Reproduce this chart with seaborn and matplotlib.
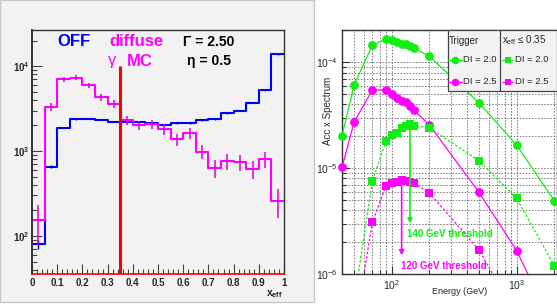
import numpy as np
import pandas as pd
import matplotlib
matplotlib.use("Agg")
import matplotlib.pyplot as plt
from matplotlib.patches import Rectangle
from matplotlib.lines import Line2D
from matplotlib.ticker import MultipleLocator, LogLocator, NullFormatter
import seaborn as sns

# ---- left panel: x_eff distributions (20 bins of 0.05)
bin_edges = [round(0.05 * i, 2) for i in range(21)]
off_counts = [80, 653, 1890, 2370, 2410, 2340, 2220, 2220, 2180, 2120,
              2020, 2135, 2135, 2320, 2380, 2770, 2980, 3700, 5230, 13800]
off_errors = [9, 26, 43, 49, 49, 48, 47, 47, 47, 46,
              45, 46, 46, 48, 49, 53, 55, 61, 72, 117]
mc_counts = [154, 3320, 7030, 7300, 5930, 4320, 3600, 2320, 2020, 2080,
             1815, 1375, 1615, 982, 637, 766, 750, 614, 798, 258]
mc_errors = [75, 340, 500, 505, 455, 390, 355, 285, 265, 270,
             250, 220, 240, 185, 150, 165, 160, 145, 165, 95]
xeff_cut = 0.35

# ---- right panel: acceptance x spectrum vs energy (GeV)
energy = [40, 50, 70, 90, 100, 110, 120, 130, 140, 150, 200, 500, 1000, 2000]
trig_di20 = [2.03e-5, 6.1e-5, 1.46e-4, 1.65e-4, 1.62e-4, 1.55e-4, 1.49e-4,
             1.50e-4, 1.44e-4, 1.36e-4, 1.14e-4, 4.13e-5, 1.65e-5, 4.92e-6]
trig_di25 = [1.02e-5, 2.72e-5, 5.48e-5, 5.48e-5, 5.06e-5, 4.64e-5, 4.34e-5,
             4.22e-5, 3.87e-5, 3.55e-5, 2.56e-5, 5.89e-6, 1.66e-6, 3.0e-7]
energy_cut = [50, 70, 90, 100, 110, 120, 130, 140, 150, 200, 500, 1000, 2000]
cut_di20 = [5.5e-7, 7.59e-6, 1.80e-5, 2.06e-5, 2.17e-5, 2.41e-5, 2.51e-5,
            2.62e-5, 2.52e-5, 2.41e-5, 1.17e-5, 5.17e-6, 1.20e-6]
cut_di25 = [2.7e-7, 3.1e-6, 6.8e-6, 7.2e-6, 7.4e-6, 7.76e-6, 7.59e-6,
            7.43e-6, 7.2e-6, 5.85e-6, 1.68e-6, 4.0e-7, 8e-8]
thr_di20 = 140
thr_di25 = 120

BLUE = "#0000ff"
MAG = "#ff00ff"
GREEN = "#12ee12"
W, H = 557, 305

sns.set_style("ticks")
plt.rcParams["font.family"] = ["Liberation Sans", "DejaVu Sans"]
plt.rcParams["mathtext.fontset"] = "custom"
plt.rcParams["mathtext.rm"] = "Liberation Sans"
plt.rcParams["mathtext.it"] = "Liberation Sans:italic"
plt.rcParams["mathtext.bf"] = "Liberation Sans:bold"


def fx(px):
    return px / W


def fy(py):
    return 1 - py / H


fig = plt.figure(figsize=(W / 100, H / 100), dpi=100)
fig.patch.set_facecolor("white")
fig.add_artist(Rectangle((0, fy(302)), fx(314), 302 / H, transform=fig.transFigure,
                         facecolor="#f2f2f2", edgecolor="#c8c8c8", lw=1, zorder=-10))

# ================= left panel
ax1 = fig.add_axes([fx(32), 31 / H, 252 / W, 244 / H])
ax1.set_facecolor("#f2f2f2")
centers = [(a + b) / 2 for a, b in zip(bin_edges[:-1], bin_edges[1:])]
hist = pd.DataFrame({"xeff": centers, "off": off_counts, "mc": mc_counts})

sns.histplot(data=hist, x="xeff", weights="off", bins=bin_edges, element="step", fill=False,
             color=BLUE, linewidth=1.5, ax=ax1)
sns.histplot(data=hist, x="xeff", weights="mc", bins=bin_edges, element="step", fill=False,
             color=MAG, linewidth=1.5, ax=ax1)
ax1.errorbar(centers, off_counts, yerr=off_errors, fmt="none", ecolor="#000099", elinewidth=1)
ax1.errorbar(centers, mc_counts, yerr=mc_errors, fmt="none", ecolor="#dd00dd", elinewidth=1.1)

ax1.set_yscale("log")
ymin1 = 35.7
ax1.set_xlim(0, 1)
ax1.set_ylim(ymin1, 26600)
ax1.vlines(xeff_cut, ymin1, 1e4, color="red", lw=2.2, zorder=6)
ax1.set_xlabel("")
ax1.set_ylabel("")

ax1.set_xticks(np.round(np.arange(0, 1.01, 0.1), 1),
               ["0", "0.1", "0.2", "0.3", "0.4", "0.5", "0.6", "0.7", "0.8", "0.9", "1"],
               fontweight="bold", fontsize=7)
ax1.xaxis.set_minor_locator(MultipleLocator(0.02))
ax1.set_yticks([100, 1000, 10000],
               [r"$\mathbf{10^{2}}$", r"$\mathbf{10^{3}}$", r"$\mathbf{10^{4}}$"], fontsize=7)
ax1.yaxis.set_minor_locator(LogLocator(subs=np.arange(2, 10)))
ax1.yaxis.set_minor_formatter(NullFormatter())
ax1.tick_params(which="both", direction="in", color="#444444", width=0.8)
ax1.tick_params(axis="x", which="major", length=7, pad=3)
ax1.tick_params(axis="x", which="minor", length=3.5)
ax1.tick_params(axis="y", which="major", length=7, pad=2)
ax1.tick_params(axis="y", which="minor", length=3.5)
for s in ax1.spines.values():
    s.set_color("#333333")
    s.set_linewidth(1)
ax1.spines["left"].set_linewidth(1.4)
ax1.spines["bottom"].set_color("red")
ax1.spines["bottom"].set_linewidth(1.2)

fig.text(fx(74), fy(42), "OFF", color=BLUE, fontsize=12, fontweight="bold", ha="center", va="center")
fig.text(fx(136), fy(42), "diffuse", color=MAG, fontsize=12, fontweight="bold", ha="center", va="center")
fig.text(fx(112), fy(60), "γ", color=MAG, fontsize=12, ha="center", va="center")
fig.text(fx(140), fy(61), "MC", color=MAG, fontsize=12, fontweight="bold", ha="center", va="center")
fig.text(fx(209), fy(42), "Γ = 2.50", color="black", fontsize=10, fontweight="bold", ha="center", va="center")
fig.text(fx(209), fy(61), "η = 0.5", color="black", fontsize=10, fontweight="bold", ha="center", va="center")
fig.text(fx(283), fy(294), r"$\mathbf{x}_{\mathbf{eff}}$", fontsize=7.5, ha="right", va="center")

# ================= right panel
ax2 = fig.add_axes([fx(342), 31 / H, 215 / W, 244 / H])
ax2.set_facecolor("white")
ax2.set_xscale("log")
ax2.set_yscale("log")
ax2.set_axisbelow(True)

series = [
    (energy, trig_di20, GREEN, "-", "o", 40),
    (energy, trig_di25, MAG, "-", "o", 40),
    (energy_cut, cut_di20, GREEN, (0, (2, 1.5)), "s", 32),
    (energy_cut, cut_di25, MAG, (0, (2, 1.5)), "s", 32),
]
ymin2, ymax2 = 1e-6, 2.02e-4
for e, v, col, ls, mk, ms in series:
    d = pd.DataFrame({"energy": e, "acc": v})
    sns.lineplot(data=d, x="energy", y="acc", color=col, linestyle=ls, lw=0.9,
                 estimator=None, ax=ax2, zorder=3)
    vis = d[(d.acc >= ymin2) & (d.acc <= ymax2)]
    sns.scatterplot(data=vis, x="energy", y="acc", color=col, marker=mk, s=ms,
                    linewidth=0, ax=ax2, zorder=4)
    ax2.collections[-1].set_clip_on(False)

ax2.set_xlim(40, 2100)
ax2.set_ylim(ymin2, ymax2)
ax2.set_xlabel("")
ax2.set_ylabel("")
ax2.set_xticks([100, 1000], [r"$10^{2}$", r"$10^{3}$"], fontsize=7.5)
ax2.xaxis.set_minor_locator(LogLocator(subs=np.arange(2, 10)))
ax2.xaxis.set_minor_formatter(NullFormatter())
ax2.set_yticks([1e-6, 1e-5, 1e-4], [r"$10^{-6}$", r"$10^{-5}$", r"$10^{-4}$"], fontsize=7.5)
ax2.yaxis.set_minor_locator(LogLocator(subs=np.arange(2, 10)))
ax2.yaxis.set_minor_formatter(NullFormatter())
ax2.tick_params(which="both", direction="in", color="#333333", width=0.8)
ax2.tick_params(which="major", length=6, pad=3)
ax2.tick_params(which="minor", length=3)
ax2.grid(True, which="both", color="#5a5a5a", linestyle=(0, (2, 2)), lw=0.55)
for s in ax2.spines.values():
    s.set_color("#333333")
    s.set_linewidth(1)

# threshold arrows
ax2.annotate("", xy=(thr_di20, 3.0e-6), xytext=(thr_di20, cut_di20[7]),
             arrowprops=dict(arrowstyle="-|>", color=GREEN, lw=1.2, mutation_scale=7,
                             shrinkA=0, shrinkB=0), zorder=5)
ax2.annotate("", xy=(thr_di25, 1.5e-6), xytext=(thr_di25, cut_di25[5]),
             arrowprops=dict(arrowstyle="-|>", color=MAG, lw=1.2, mutation_scale=7,
                             shrinkA=0, shrinkB=0), zorder=5)
ax2.text(132, 2.4e-6, "140 GeV threshold", color=GREEN, fontsize=7, fontweight="bold", va="center")
ax2.text(118, 1.2e-6, "120 GeV threshold", color=MAG, fontsize=7, fontweight="bold", va="center")

fig.text(fx(328), fy(111), "Acc x Spectrum", fontsize=7, rotation=90, ha="center", va="center")
fig.text(fx(460), fy(291), "Energy (GeV)", fontsize=6.5, ha="center", va="center")

# legend table
fig.add_artist(Rectangle((fx(447.5), fy(91)), fx(557) - fx(447.5), (91 - 30) / H,
                         transform=fig.transFigure, facecolor="#f2f2f2",
                         edgecolor="#444444", lw=0.9, zorder=8))
fig.add_artist(Line2D([fx(500), fx(500)], [fy(30), fy(91)], color="#444444", lw=0.9, zorder=9))
fig.text(fx(449), fy(41), "Trigger", fontsize=7, va="center", zorder=10)
fig.text(fx(502), fy(40), r"x$_{\rm eff}$ ≤ 0.35", fontsize=7, va="center", zorder=10)
legend_rows = [(60, GREEN, "DI = 2.0"), (82, MAG, "DI = 2.5")]
for py, col, lab in legend_rows:
    fig.add_artist(Line2D([fx(448), fx(462)], [fy(py)] * 2, color=col, lw=0.9, zorder=9))
    fig.add_artist(Line2D([fx(455)], [fy(py)], color=col, marker="o", ms=5.5, mew=0, zorder=9))
    fig.text(fx(463), fy(py), lab, fontsize=6.8, va="center", zorder=10)
    fig.add_artist(Line2D([fx(502), fx(514)], [fy(py)] * 2, color=col, lw=0.9,
                          ls=(0, (2, 1.5)), zorder=9))
    fig.add_artist(Line2D([fx(508)], [fy(py)], color=col, marker="s", ms=5, mew=0, zorder=9))
    fig.text(fx(515), fy(py), lab, fontsize=6.8, va="center", zorder=10)

fig.savefig("out.png", dpi=100)
